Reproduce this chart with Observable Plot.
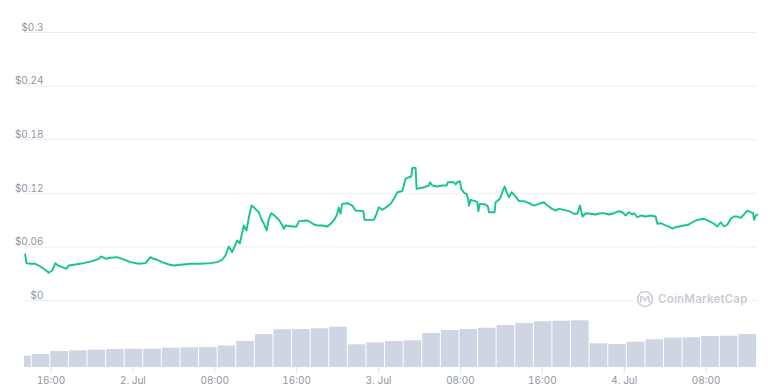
<!DOCTYPE html>
<html>
<head>
<meta charset="utf-8">
<script src="https://cdn.jsdelivr.net/npm/d3@7"></script>
<script src="https://cdn.jsdelivr.net/npm/@observablehq/plot@0.6"></script>
<style>
  html, body { margin: 0; padding: 0; background: #fff; }
  #wrap { position: relative; width: 768px; height: 392px; overflow: hidden; font-family: Inter, "Noto Sans", sans-serif; }
  #price, #volume { position: absolute; left: 0; }
  #price { top: 0; }
  #volume { top: 300px; }
  #wm { position: absolute; left: 634px; top: 289px; height: 19px; padding: 0 3px 0 2px; background: #fff;
        display: flex; align-items: center; gap: 4px; color: #c9cdd5; font-weight: 600; font-size: 11.6px; letter-spacing: 0.15px; }
</style>
</head>
<body>
<div id="wrap">
  <div id="volume"></div>
  <div id="price"></div>
  <div id="wm">
    <svg width="18" height="18" viewBox="-10 -10 20 20">
      <circle r="8.3" fill="none" stroke="#c9cdd5" stroke-width="1.8"/>
      <path d="M-4.8 3.2 L-4.8 -1.5 Q-4.6 -3.6 -2.6 -2 L0 1.8 L2.2 -2 Q3.8 -3.6 4.2 -1.5 L4.6 2.6 Q5.2 4 6.5 2.8" fill="none" stroke="#c9cdd5" stroke-width="1.7" stroke-linecap="round" stroke-linejoin="round"/>
    </svg>
    <span>CoinMarketCap</span>
  </div>
</div>
<script>
// ---- data ----
const priceTimes = [
  "2021-07-01T13:29","2021-07-01T13:36","2021-07-01T14:00","2021-07-01T14:29","2021-07-01T14:48","2021-07-01T15:18",
  "2021-07-01T15:47","2021-07-01T16:07","2021-07-01T16:26","2021-07-01T16:40","2021-07-01T17:06","2021-07-01T17:31",
  "2021-07-01T17:44","2021-07-01T18:24","2021-07-01T19:12","2021-07-01T20:02","2021-07-01T20:40","2021-07-01T20:54",
  "2021-07-01T21:20","2021-07-01T21:49","2021-07-01T22:28","2021-07-01T22:57","2021-07-01T23:46",
  "2021-07-02T00:35","2021-07-02T01:14","2021-07-02T01:43","2021-07-02T01:59","2021-07-02T02:23","2021-07-02T02:52",
  "2021-07-02T03:31","2021-07-02T04:00","2021-07-02T04:39","2021-07-02T05:38","2021-07-02T06:37","2021-07-02T07:35",
  "2021-07-02T08:14","2021-07-02T08:44","2021-07-02T09:03","2021-07-02T09:22","2021-07-02T09:42","2021-07-02T10:12",
  "2021-07-02T10:27","2021-07-02T10:50","2021-07-02T11:06","2021-07-02T11:20","2021-07-02T11:36","2021-07-02T11:49",
  "2021-07-02T12:03","2021-07-02T12:18","2021-07-02T12:32","2021-07-02T12:48","2021-07-02T13:04","2021-07-02T13:17",
  "2021-07-02T13:31","2021-07-02T13:50","2021-07-02T14:16","2021-07-02T14:36","2021-07-02T14:45","2021-07-02T14:55",
  "2021-07-02T15:34","2021-07-02T15:59","2021-07-02T16:13","2021-07-02T17:02","2021-07-02T17:22","2021-07-02T17:41",
  "2021-07-02T18:01","2021-07-02T18:30","2021-07-02T18:59","2021-07-02T19:19","2021-07-02T19:38","2021-07-02T19:54",
  "2021-07-02T20:07","2021-07-02T20:17","2021-07-02T20:27","2021-07-02T20:57","2021-07-02T21:26","2021-07-02T21:45",
  "2021-07-02T22:30","2021-07-02T22:38","2021-07-02T23:33","2021-07-02T23:48",
  "2021-07-03T00:02","2021-07-03T00:22","2021-07-03T00:41","2021-07-03T01:11","2021-07-03T01:30","2021-07-03T01:50",
  "2021-07-03T02:19","2021-07-03T02:38","2021-07-03T02:58","2021-07-03T03:12","2021-07-03T03:18","2021-07-03T03:37",
  "2021-07-03T03:43","2021-07-03T04:16","2021-07-03T04:55","2021-07-03T05:01","2021-07-03T05:15","2021-07-03T05:44",
  "2021-07-03T06:14","2021-07-03T06:39","2021-07-03T06:46","2021-07-03T07:22","2021-07-03T07:32","2021-07-03T07:41",
  "2021-07-03T07:57","2021-07-03T08:05","2021-07-03T08:24","2021-07-03T08:36","2021-07-03T08:46","2021-07-03T08:50",
  "2021-07-03T09:00","2021-07-03T09:29","2021-07-03T09:39","2021-07-03T09:45","2021-07-03T09:54","2021-07-03T10:27",
  "2021-07-03T10:41","2021-07-03T10:47","2021-07-03T11:20","2021-07-03T11:26","2021-07-03T11:45","2021-07-03T11:55",
  "2021-07-03T12:05","2021-07-03T12:19","2021-07-03T12:31","2021-07-03T12:44","2021-07-03T13:00","2021-07-03T13:23",
  "2021-07-03T13:43","2021-07-03T14:12","2021-07-03T14:41","2021-07-03T15:11","2021-07-03T15:31","2021-07-03T15:50",
  "2021-07-03T16:09","2021-07-03T16:29","2021-07-03T16:58","2021-07-03T17:18","2021-07-03T17:37","2021-07-03T18:07",
  "2021-07-03T18:36","2021-07-03T19:05","2021-07-03T19:25","2021-07-03T19:40","2021-07-03T19:55","2021-07-03T20:14",
  "2021-07-03T20:43","2021-07-03T21:12","2021-07-03T21:38","2021-07-03T22:01","2021-07-03T22:31","2021-07-03T23:00",
  "2021-07-03T23:29","2021-07-03T23:49",
  "2021-07-04T00:08","2021-07-04T00:28","2021-07-04T00:48","2021-07-04T00:57","2021-07-04T01:17","2021-07-04T01:36",
  "2021-07-04T02:06","2021-07-04T02:35","2021-07-04T03:04","2021-07-04T03:14","2021-07-04T03:33","2021-07-04T04:03",
  "2021-07-04T04:22","2021-07-04T04:42","2021-07-04T05:01","2021-07-04T05:21","2021-07-04T05:50","2021-07-04T06:19",
  "2021-07-04T06:39","2021-07-04T07:09","2021-07-04T07:47","2021-07-04T08:17","2021-07-04T08:46","2021-07-04T09:06",
  "2021-07-04T09:25","2021-07-04T09:45","2021-07-04T10:05","2021-07-04T10:24","2021-07-04T10:43","2021-07-04T11:03",
  "2021-07-04T11:23","2021-07-04T11:42","2021-07-04T12:02","2021-07-04T12:21","2021-07-04T12:35","2021-07-04T12:41",
  "2021-07-04T12:51","2021-07-04T13:01"
];
const priceValues = [
  0.0515,0.0418,0.0411,0.0411,0.0392,0.0355,
  0.0310,0.0336,0.0418,0.0392,0.0373,0.0355,
  0.0392,0.0403,0.0418,0.0440,0.0467,0.0493,
  0.0467,0.0478,0.0485,0.0467,0.0429,
  0.0411,0.0418,0.0485,0.0467,0.0456,0.0429,
  0.0403,0.0392,0.0400,0.0411,0.0411,0.0418,
  0.0429,0.0456,0.0504,0.0604,0.0541,0.0672,
  0.0641,0.0840,0.0784,0.0932,0.1063,0.1044,
  0.1015,0.0988,0.0915,0.0859,0.0784,0.0915,
  0.0977,0.0951,0.0903,0.0840,0.0803,0.0840,
  0.0828,0.0828,0.0888,0.0896,0.0876,0.0851,
  0.0840,0.0840,0.0828,0.0859,0.0896,0.0951,
  0.1038,0.0971,0.1082,0.1089,0.1063,0.1007,
  0.1000,0.0903,0.0903,0.0971,
  0.1044,0.1015,0.1038,0.1082,0.1138,0.1212,
  0.1224,0.1362,0.1380,0.1388,0.1485,0.1485,
  0.1250,0.1262,0.1287,0.1324,0.1287,0.1276,
  0.1287,0.1287,0.1324,0.1324,0.1299,0.1324,
  0.1335,0.1250,0.1201,0.1194,0.1127,0.1063,
  0.1127,0.1112,0.1100,0.1000,0.1082,0.1075,
  0.1052,0.0988,0.0988,0.1100,0.1127,0.1150,
  0.1212,0.1276,0.1212,0.1156,0.1212,0.1164,
  0.1112,0.1112,0.1089,0.1063,0.1075,0.1089,
  0.1100,0.1063,0.1026,0.1007,0.1026,0.1015,
  0.1000,0.0971,0.0971,0.1063,0.0940,0.0977,
  0.0971,0.0963,0.0977,0.0977,0.0963,0.0977,
  0.1000,0.0988,
  0.0951,0.0988,0.0963,0.0977,0.0932,0.0951,
  0.0940,0.0951,0.0940,0.0859,0.0865,0.0840,
  0.0828,0.0803,0.0821,0.0828,0.0840,0.0851,
  0.0876,0.0903,0.0915,0.0888,0.0859,0.0828,
  0.0876,0.0828,0.0851,0.0915,0.0940,0.0940,
  0.0926,0.0963,0.1007,0.0988,0.0977,0.0903,
  0.0951,0.0963
];
// volume bars: boundaries (n+1) and values (n), in $M
const volumeBounds = [
  "2021-07-01T13:25","2021-07-01T14:10","2021-07-01T15:59","2021-07-01T17:48","2021-07-01T19:37","2021-07-01T21:26",
  "2021-07-01T23:15","2021-07-02T01:04","2021-07-02T02:53","2021-07-02T04:42","2021-07-02T06:31","2021-07-02T08:20",
  "2021-07-02T10:09","2021-07-02T11:58","2021-07-02T13:47","2021-07-02T15:36","2021-07-02T17:25","2021-07-02T19:14",
  "2021-07-02T21:03","2021-07-02T22:52","2021-07-03T00:41","2021-07-03T02:30","2021-07-03T04:19","2021-07-03T06:08",
  "2021-07-03T07:57","2021-07-03T09:46","2021-07-03T11:35","2021-07-03T13:24","2021-07-03T15:13","2021-07-03T17:02",
  "2021-07-03T18:51","2021-07-03T20:40","2021-07-03T22:29","2021-07-04T00:18","2021-07-04T02:07","2021-07-04T03:56",
  "2021-07-04T05:45","2021-07-04T07:34","2021-07-04T09:23","2021-07-04T11:12","2021-07-04T13:01"
];
const volumeValues = [
  11.3, 13, 16, 16.7, 17.3, 18, 18.3, 18.3, 19.3, 19.7,
  20, 21.5, 26, 33, 37.7, 38, 38.7, 40.3, 22.7, 24.7,
  26, 26.7, 34, 37, 38, 39.3, 42, 44, 45.7, 46.3,
  46.7, 23.7, 23, 25.3, 27.7, 29.3, 29.7, 31, 31.3, 33
];
const yTicks = [0, 0.06, 0.12, 0.18, 0.24, 0.3];
const yTickLabels = ["$0", "$0.06", "$0.12", "$0.18", "$0.24", "$0.3"];
const xStart = "2021-07-01T13:25";
const xEnd = "2021-07-04T13:01";

// ---- build ----
const price = priceTimes.map((t, i) => ({t: new Date(t), v: priceValues[i]}));
const vol = volumeValues.map((v, i) => ({s: new Date(volumeBounds[i]), e: new Date(volumeBounds[i + 1]), v}));
const xDomain = [new Date(xStart), new Date(xEnd)];
const textColor = "#8f96a3";
const font = {fontFamily: "Inter, 'Noto Sans', sans-serif", fontSize: "10px", background: "transparent", overflow: "visible"};

const pricePlot = Plot.plot({
  width: 768, height: 310,
  marginLeft: 24, marginRight: 11, marginTop: 32, marginBottom: 10,
  x: {type: "time", domain: xDomain, axis: null},
  y: {domain: [0, 0.3], axis: null},
  style: font,
  marks: [
    Plot.ruleY(yTicks, {stroke: "#eceef2", strokeWidth: 1}),
    Plot.axisY(yTicks, {anchor: "left", label: null, tickSize: 0, tickPadding: 3, dx: 22, dy: -5,
      tickFormat: d => yTickLabels[yTicks.indexOf(d)], fill: textColor}),
    Plot.line(price, {x: "t", y: "v", stroke: "#16c784", strokeWidth: 1.9, strokeLinejoin: "round"})
  ]
});
document.getElementById("price").append(pricePlot);

const fmtDay = d3.timeFormat("%-d. %b");
const fmtHour = d3.timeFormat("%H:%M");
const xTicks = d3.timeHour.every(8).range(xDomain[0], xDomain[1]);

const volPlot = Plot.plot({
  width: 768, height: 92,
  marginLeft: 24, marginRight: 11, marginTop: 0, marginBottom: 25,
  x: {type: "time", domain: xDomain},
  y: {domain: [0, 67], axis: null},
  style: font,
  marks: [
    Plot.rectY(vol, {x1: "s", x2: "e", y: "v", fill: "#cfd5e3", insetRight: 1}),
    Plot.axisX(xTicks, {label: null, tickSize: 6, tickPadding: 3, stroke: "#dfe2e8", fill: textColor,
      tickFormat: d => (d.getHours() === 0 ? fmtDay(d) : fmtHour(d))})
  ]
});
document.getElementById("volume").append(volPlot);
</script>
</body>
</html>
